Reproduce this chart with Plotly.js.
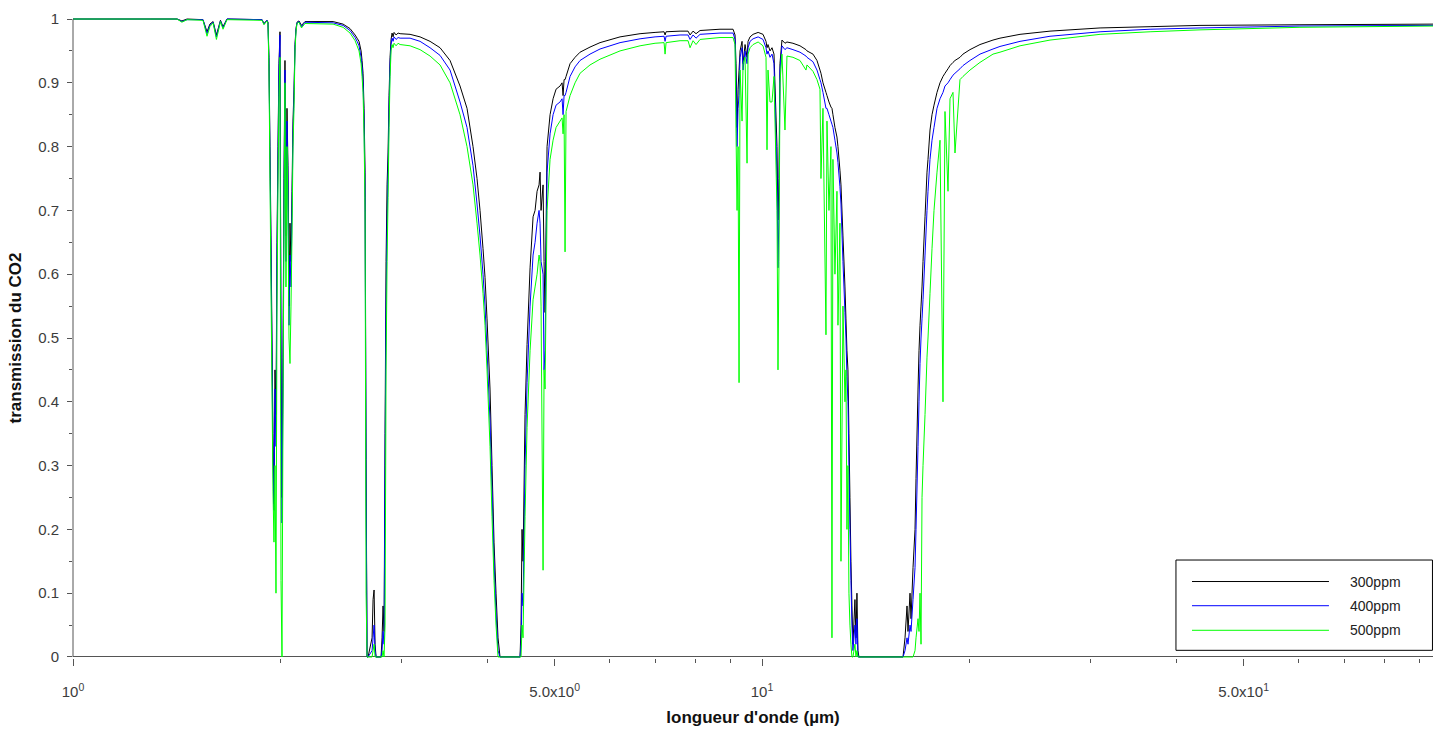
<!DOCTYPE html>
<html>
<head>
<meta charset="utf-8">
<script src="https://cdn.plot.ly/plotly-3.0.1.min.js"></script>
<style>html,body{margin:0;padding:0;background:#fff;}#chart{width:1433px;height:733px;}</style>
</head>
<body>
<div id="chart"></div>
<script>
// Wavelength (µm) (log axis)
const wavelength = [
  1.000, 1.294, 1.416, 1.439, 1.464, 1.544, 1.565, 1.580, 1.597, 1.615, 1.637, 1.651, 1.673, 1.881, 1.893, 1.912,
  1.9186, 1.9250, 1.9315, 1.9380, 1.9445, 1.9510, 1.9575, 1.9641, 1.9707, 1.9773, 1.9839, 1.9905, 1.9972, 2.0039, 2.0106,
  2.0173, 2.0241, 2.0308, 2.0376, 2.0445, 2.0513, 2.0582, 2.0651, 2.0720, 2.0789, 2.0859, 2.0929, 2.0999, 2.1069, 2.1140,
  2.128, 2.146, 2.171, 2.385, 2.466, 2.524, 2.567,
  2.584, 2.601, 2.619, 2.6275, 2.6363, 2.6451, 2.6540, 2.6629, 2.6718, 2.6807, 2.7168, 2.7259, 2.7351, 2.7442, 2.7534, 2.7997,
  2.8091, 2.8185, 2.8280, 2.8374, 2.8469, 2.8565, 2.8660, 2.8756, 2.8853, 2.8949, 2.9046, 2.9144, 2.9241, 2.9438, 2.9636, 2.9835,
  3.0845, 3.1893, 3.2976, 3.4097, 3.5256, 3.6453, 3.7316, 3.8071, 3.8583, 3.8972, 3.9365, 3.9629, 3.9895, 4.0297, 4.0567,
  4.0839, 4.1113, 4.1389, 4.1666,
  4.4548, 4.4697, 4.4847, 4.4997, 4.5299, 4.5603, 4.6066, 4.6530, 4.6842, 4.7156, 4.7472, 4.7631, 4.7790, 4.8111, 4.8272,
  4.8433, 4.8758, 4.9251, 4.9747, 5.0248, 5.0923, 5.1265, 5.1437, 5.1609, 5.1781, 5.1954, 5.2653, 5.3540, 5.4443, 5.6282,
  5.8197, 6.2225, 6.6530, 6.9948, 7.2087, 7.2330, 7.2572, 7.6043, 7.8105, 7.8630, 7.9423, 8.0224, 8.1302, 8.6907, 9.0463,
  9.0777, 9.1386, 9.1692, 9.2000, 9.2308, 9.2617, 9.2927, 9.3550, 9.3863, 9.4492, 9.5125, 9.5444, 9.6083, 9.7053, 9.8717,
  10.034, 10.135, 10.169, 10.203, 10.271, 10.340, 10.409, 10.514, 10.549, 10.584, 10.619, 10.690, 10.798, 10.870, 11.090,
  11.353, 11.583, 11.622, 11.857, 12.017, 12.138, 12.178, 12.260, 12.384, 12.425, 12.508, 12.592, 12.634, 12.676, 12.761,
  12.847, 12.890, 12.976, 13.020, 13.107, 13.195, 13.239, 13.283, 13.328, 13.372, 13.417, 13.462, 13.507, 13.552, 13.643,
  13.688, 13.734, 13.780, 13.826, 13.965,
  16.020, 16.128, 16.236, 16.290, 16.400, 16.455, 16.565, 16.676, 16.732, 16.844, 16.900, 16.957, 17.014, 17.071, 17.128,
  17.243, 17.358, 17.416, 17.533, 17.650, 17.768, 17.947, 18.128, 18.310, 18.433, 18.619, 18.744, 18.932, 19.059, 19.380,
  19.575, 20.039, 20.720, 21.640, 22.152, 23.686, 26.182, 30.950, 36.580, 43.222, 60.37, 94.18
];

// Transmission, 300 ppm (black)
const t300 = [
  1, 1, 1, .997, 1, .999, .980, .992, .996, .975, .998, .988, 1, .999, .993, .998,
  .995, .94, .80, .66, .50, .35, .24, .45, .38, .65, .80, .93, .98, .50, .25, .47, .75, .935, .66, .86, .77, .55, .68, .62, .73, .84, .89, .96, .985, .995,
  .997, .990, .996, .996, .992, .985, .975,
  .970, .965, .950, .935, .915, .860, .760, .310, 0, 0, .03, .09, .105, .02, 0, 0, .03, .08, .04, .35, .62, .74, .79, .88, .94, .968, .978, .972, .979, .975, .978, .977,
  .976, .972, .965, .955, .935, .895, .86, .80, .75, .70, .64, .595, .53, .42, .30, .18, .10, .03, 0,
  0, .05, .20, .15, .38, .49, .61, .69, .70, .73, .74, .76, .70, .74, .62, .54, .80, .85, .875, .89, .895, .90, .88, .905, .905, .91, .93, .94, .948, .956,
  .963, .972, .977, .979, .980, .975, .980, .981, .981, .975, .981, .977, .982, .984, .984,
  .984, .975, .93, .83, .89, .92, .95, .965, .93, .96, .94, .965, .972, .976, .979, .976, .965, .955, .96, .95, .955, .945, .80, .685, .75, .93, .967, .962, .964, .962,
  .958, .952, .95, .945, .935, .92, .915, .90, .885, .88, .87, .862, .86, .85, .83, .815, .80, .763, .74, .66, .58, .53, .48, .45, .35, .25, .15, .08, .02, .09,
  .03, .10, .01, 0, 0,
  0, .03, .08, .04, .10, .06, .14, .20, .28, .42, .48, .52, .55, .58, .62, .69, .76, .78, .826, .85, .865, .885, .90, .91, .915, .922, .927, .932, .935, .94,
  .945, .952, .96, .967, .970, .976, .981, .986, .988, .990, .991, .992
];

// Transmission, 400 ppm (blue)
const t400 = [
  1, 1, 1, .996, .999, .999, .977, .990, .995, .972, .997, .986, 1, .999, .992, .998,
  .994, .93, .78, .63, .47, .31, .23, .42, .33, .62, .78, .92, .975, .45, .21, .43, .72, .92, .62, .84, .74, .52, .63, .58, .70, .82, .88, .955, .983, .994,
  .996, .988, .995, .994, .990, .982, .971,
  .965, .958, .940, .925, .900, .840, .720, .270, 0, 0, .01, .03, .05, .01, 0, 0, .01, .04, .02, .30, .55, .68, .76, .86, .93, .96, .97, .965, .972, .968, .971, .970,
  .970, .965, .955, .943, .920, .870, .83, .77, .71, .66, .60, .55, .48, .37, .26, .15, .07, .01, 0,
  0, .02, .10, .08, .30, .43, .55, .63, .65, .68, .70, .68, .62, .60, .45, .48, .76, .82, .85, .865, .87, .875, .85, .88, .88, .885, .91, .925, .935, .945,
  .953, .963, .969, .972, .973, .965, .973, .975, .975, .968, .975, .970, .976, .978, .978,
  .978, .968, .90, .80, .86, .88, .94, .955, .92, .95, .93, .955, .965, .969, .972, .968, .955, .945, .95, .94, .945, .93, .75, .61, .70, .92, .958, .952, .955, .952,
  .948, .942, .94, .933, .92, .905, .90, .885, .86, .86, .85, .84, .835, .83, .81, .79, .775, .737, .71, .62, .54, .50, .44, .40, .30, .20, .12, .05, .01, .05,
  .02, .06, 0, 0, 0,
  0, .01, .03, .02, .05, .04, .09, .14, .20, .33, .40, .46, .50, .53, .56, .63, .70, .73, .78, .81, .83, .86, .875, .885, .895, .90, .905, .912, .915, .922,
  .927, .935, .945, .953, .957, .965, .973, .980, .984, .986, .989, .990
];

// Transmission, 500 ppm (green)
const t500 = [
  1, 1, 1, .995, .999, .998, .973, .988, .994, .968, .996, .984, .999, .998, .991, .997,
  .993, .92, .75, .58, .42, .26, .18, .30, .10, .55, .74, .88, .94, .12, 0, .38, .68, .90, .58, .80, .70, .50, .46, .55, .66, .80, .86, .95, .98, .993,
  .995, .986, .993, .992, .987, .978, .966,
  .958, .950, .930, .910, .885, .820, .700, .100, 0, 0, 0, .01, .02, 0, 0, 0, 0, .01, 0, .05, .45, .62, .72, .83, .91, .95, .96, .955, .962, .958, .962, .960,
  .958, .952, .942, .928, .900, .850, .80, .74, .68, .63, .57, .52, .45, .33, .22, .12, .05, 0, 0,
  0, 0, .05, .03, .22, .36, .48, .56, .58, .60, .63, .62, .55, .136, .45, .42, .70, .78, .81, .83, .84, .845, .82, .85, .635, .855, .88, .90, .915, .928,
  .937, .95, .958, .962, .963, .945, .963, .966, .966, .955, .966, .960, .968, .971, .971,
  .971, .96, .82, .70, .80, .43, .92, .84, .93, .94, .774, .945, .955, .96, .964, .958, .94, .795, .92, .87, .87, .91, .70, .45, .62, .90, .945, .826, .942, .94,
  .935, .92, .928, .918, .905, .89, .75, .86, .505, .84, .70, .80, .03, .78, .60, .73, .52, .68, .15, .55, .40, .45, .20, .30, .10, .05, .02, 0, 0, .02,
  0, .01, 0, 0, 0,
  0, 0, 0, 0, 0, 0, 0, .01, .03, .06, .04, .10, .02, .25, .30, .38, .47, .50, .57, .64, .70, .76, .81, .40, .855, .73, .875, .885, .79, .905,
  .91, .92, .932, .945, .948, .958, .967, .976, .980, .983, .987, .989
];

const seriesNames = ['300ppm', '400ppm', '500ppm'];
const seriesColors = ['#000000', '#0000ff', '#00ff00'];
const seriesValues = [t300, t400, t500];

const xTickVals = [1, 5, 10, 50];
const xTickText = ['10<sup>0</sup>', '5.0x10<sup>0</sup>', '10<sup>1</sup>', '5.0x10<sup>1</sup>'];
const xMinorVals = [2, 3, 4, 6, 7, 8, 9, 20, 30, 40, 60, 70, 80, 90];
const yTickVals = [0, 0.1, 0.2, 0.3, 0.4, 0.5, 0.6, 0.7, 0.8, 0.9, 1];
const yTickText = ['0', '0.1', '0.2', '0.3', '0.4', '0.5', '0.6', '0.7', '0.8', '0.9', '1'];
const yMinorVals = [0.05, 0.15, 0.25, 0.35, 0.45, 0.55, 0.65, 0.75, 0.85, 0.95];

const FONT = 'Liberation Sans, Arial, Helvetica, sans-serif';
const AXC = '#555555';

const traces = seriesValues.map((vals, i) => ({
  type: 'scatter', mode: 'lines', name: seriesNames[i],
  x: wavelength, y: vals,
  line: {color: seriesColors[i], width: 1, simplify: false},
  hoverinfo: 'x+y+name', showlegend: false
}));

// custom legend box (Scilab style, long line samples)
const legX0 = 0.8110, legX1 = 0.9996, legY0 = 0.0120, legY1 = 0.1531;
const legRowsY = [0.1195, 0.0817, 0.0433];
const shapes = [
  {type: 'line', xref: 'paper', yref: 'y', x0: 0, x1: 0, y0: 0, y1: 1, line: {color: AXC, width: 1}},
  {type: 'rect', xref: 'paper', yref: 'paper', x0: legX0, x1: legX1, y0: legY0, y1: legY1,
   line: {color: '#000', width: 1}, fillcolor: '#ffffff', layer: 'above'}
];
const annotations = [];
seriesNames.forEach((n, i) => {
  shapes.push({type: 'line', xref: 'paper', yref: 'paper', x0: 0.8228, x1: 0.9235, y0: legRowsY[i], y1: legRowsY[i],
    line: {color: seriesColors[i], width: 1}, layer: 'above'});
  annotations.push({xref: 'paper', yref: 'paper', x: 0.9375, y: legRowsY[i], xanchor: 'left', yanchor: 'middle',
    text: n, showarrow: false, font: {family: FONT, size: 14, color: '#222'}});
});

const layout = {
  width: 1433, height: 733,
  margin: {l: 73, r: 0, t: 18, b: 75},
  paper_bgcolor: '#ffffff', plot_bgcolor: '#ffffff',
  showlegend: false,
  font: {family: FONT, color: '#333'},
  xaxis: {
    type: 'log', range: [0, 1.97388],
    tickmode: 'array', tickvals: xTickVals, ticktext: xTickText,
    ticks: 'outside', ticklen: 7, tickcolor: AXC, tickwidth: 1,
    minor: {tickmode: 'array', tickvals: xMinorVals, ticks: 'outside', ticklen: 4, tickcolor: AXC, tickwidth: 1, showgrid: false},
    showgrid: false, zeroline: false, showline: false,
    tickfont: {family: FONT, size: 15, color: '#3c3c3c'},
    ticklabelstandoff: 13,
    title: {text: "longueur d'onde (µm)", font: {family: FONT, size: 17, color: '#111', weight: 'bold'}, standoff: 12}
  },
  yaxis: {
    range: [-0.0016, 1.0016],
    tickmode: 'array', tickvals: yTickVals, ticktext: yTickText,
    ticks: 'outside', ticklen: 5, tickcolor: AXC, tickwidth: 1,
    minor: {tickmode: 'array', tickvals: yMinorVals, ticks: 'outside', ticklen: 3, tickcolor: AXC, tickwidth: 1, showgrid: false},
    showgrid: false, showline: false,
    zeroline: true, zerolinecolor: AXC, zerolinewidth: 1,
    tickfont: {family: FONT, size: 15, color: '#3c3c3c'},
    ticklabelstandoff: 5,
    title: {text: 'transmission du CO2', font: {family: FONT, size: 17, color: '#111', weight: 'bold'}, standoff: 12}
  },
  shapes: shapes,
  annotations: annotations
};

Plotly.newPlot('chart', traces, layout, {displayModeBar: false, staticPlot: true});
</script>
</body>
</html>
